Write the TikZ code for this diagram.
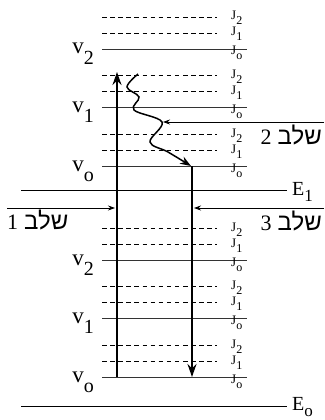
\documentclass[tikz,border=0pt]{standalone}
\usepackage{fontspec}
\setmainfont{Liberation Serif}
\newfontfamily\hebfont[Script=Hebrew]{Liberation Sans}
\TeXXeTstate=1
\usetikzlibrary{arrows.meta}

% level label with a lowered index
\newcommand\lvidx[5]{{\fontsize{#1}{#1}\selectfont #2}\raisebox{-#5pt}{\fontsize{#3}{#3}\selectfont #4}}
% hebrew step label
\newcommand\steptxt[1]{\beginR{\hebfont\fontsize{24}{24}\selectfont שלב}\hspace{6pt}{\fontsize{22}{22}\selectfont #1}\endR}

\begin{document}
\begin{tikzpicture}[x=1pt, y=-1pt,
    lvl/.style={line width=0.8pt, black!80},
    rot/.style={line width=0.6pt, dash pattern=on 4.5pt off 3.6pt},
    elec/.style={line width=1pt},
    trans/.style={line width=1.8pt, -{Stealth[length=13pt, width=9pt]}},
    stepar/.style={line width=0.8pt, -{Stealth[length=7pt, width=5pt]}},
    wave/.style={line width=1.5pt, -{Stealth[length=11pt, width=8pt]}},
    jlab/.style={anchor=base west, inner sep=0pt},
    vlab/.style={anchor=base east, inner sep=0pt},
    steplab/.style={inner sep=0pt}
  ]
  \useasboundingbox (0,0) rectangle (324,420);

  % vibrational and rotational levels of both electronic states
  \foreach \base/\grp in {166/u, 377/l} {
    \foreach \k/\idx in {0/o, 1/1, 2/2} {
      \pgfmathsetmacro\yv{\base-58.5*\k}
      \draw[lvl] (102,\yv) -- (247,\yv);
      \draw[rot] (102,\yv-16) -- (217,\yv-16);
      \draw[rot] (102,\yv-32) -- (217,\yv-32);
      \node[vlab] (v\idx\grp) at (94,\yv+5) {\lvidx{23}{v}{20}{\idx}{10}};
      \node[jlab] (jo\idx\grp) at (231,\yv+6) {\lvidx{13}{J}{12}{o}{5}};
      \node[jlab] (ja\idx\grp) at (231,\yv-13) {\lvidx{13}{J}{12}{1}{5}};
      \node[jlab] (jb\idx\grp) at (231,\yv-29) {\lvidx{13}{J}{12}{2}{5}};
    }
  }

  % electronic levels
  \draw[elec] (21,190) -- (287,190);
  \node[jlab] (e1) at (292,195) {\lvidx{20}{E}{17}{1}{6}};
  \draw[elec] (21,406) -- (287,406);
  \node[jlab] (e0) at (292,410) {\lvidx{20}{E}{17}{o}{6}};

  % transitions
  \coordinate (absA) at (117,377);
  \coordinate (absB) at (117,72);
  \coordinate (emA) at (192,166);
  \coordinate (emB) at (192,377);
  \draw[trans] (absA) -- (absB);
  \draw[trans] (emA) -- (emB);
  \draw[wave] plot[smooth, tension=0.6] coordinates
    {(138,74) (127,87) (139,97) (134,110) (162,122) (150,142) (168,152) (191,166)};

  % steps
  \coordinate (s1a) at (7,208);
  \coordinate (s1b) at (115,208);
  \coordinate (s2a) at (324,122);
  \coordinate (s2b) at (163,122);
  \coordinate (s3a) at (324,208);
  \coordinate (s3b) at (194,208);
  \draw[stepar] (s1a) -- (s1b);
  \draw[stepar] (s2a) -- (s2b);
  \draw[stepar] (s3a) -- (s3b);
  \node[steplab, anchor=base west] (st1) at (7,229) {\steptxt{1}};
  \node[steplab, anchor=base east] (st2) at (322,144) {\steptxt{2}};
  \node[steplab, anchor=base east] (st3) at (322,230) {\steptxt{3}};
\end{tikzpicture}
\end{document}
